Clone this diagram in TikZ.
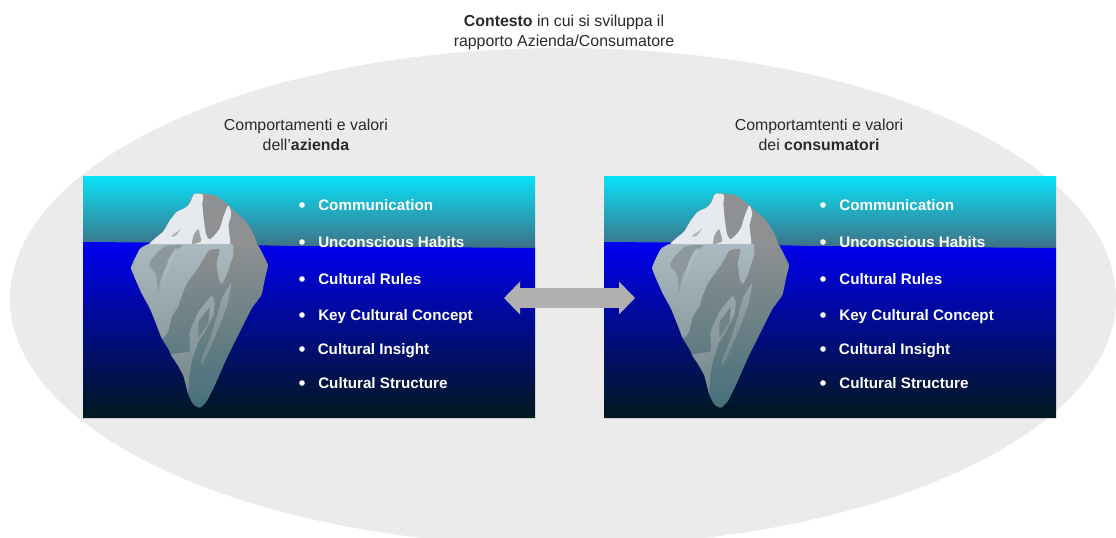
\documentclass[tikz,border=0pt]{standalone}
\usepackage{fontspec}
\setmainfont{Liberation Sans}
\usetikzlibrary{arrows.meta}
\definecolor{bgell}{HTML}{EBEBEB}
\definecolor{txt}{HTML}{2A2A2A}
\definecolor{arrowgray}{HTML}{B0B0B0}
\definecolor{skytop}{HTML}{08E2F8}
\definecolor{skybot}{HTML}{3F7086}
\definecolor{seatop}{HTML}{0000F2}
\definecolor{seamid}{HTML}{00009A}
\definecolor{seabot}{HTML}{01181C}
\definecolor{bergdark}{HTML}{8E9091}
\definecolor{bergmid}{HTML}{7E8C90}
\definecolor{bergbot}{HTML}{46707A}
\definecolor{bergice}{HTML}{E6EAEE}
\definecolor{berglight}{HTML}{AABAC0}
\definecolor{berglow}{HTML}{8E9DA1}
\definecolor{bergpatch}{HTML}{8C989C}
\definecolor{bandtop}{HTML}{9AA6AB}
\definecolor{bandlow}{HTML}{74878B}
\definecolor{lensfill}{HTML}{6F8488}
\tikzset{
  capt/.style={font=\fontsize{11.9pt}{15pt}\selectfont, text=txt, align=center, inner sep=0pt},
  item/.style={font=\fontsize{11.4pt}{14pt}\selectfont\bfseries, text=white, anchor=base west, inner sep=0pt},
  dot/.style={circle, fill=white, inner sep=0pt, minimum size=4.2pt},
  organic/.style={rounded corners=1.2pt}
}
\newcommand{\itemrow}[4]{%
  \node[dot] (#1d) at (302,#2-5) {};
  \node[item] (#1t) at (#3,#2) {#4};
}
\newcommand{\bergshape}{%
  \begin{scope}[shift={(80,170)},x=.25pt,y=-.25pt]
    % above water
    \fill[bergdark, organic] (205,224) -- (225,205) -- (250,185) -- (270,150) -- (290,125) -- (320,113) -- (342,70) -- (370,70) -- (405,75) -- (440,100) -- (465,125) -- (495,150) -- (520,190) -- (533,224) -- cycle;
    \fill[bergice, organic] (205,224) -- (225,205) -- (250,185) -- (270,150) -- (290,125) -- (317,113) -- (330,100) -- (342,70) -- (370,72) -- (367,105) -- (372,155) -- (378,195) -- (388,210) -- (405,195) -- (420,175) -- (430,140) -- (445,103) -- (455,130) -- (445,165) -- (452,224) -- cycle;
    \fill[bergdark!85!white, organic] (355,175) -- (365,215) -- (335,224) -- (340,195) -- cycle;
    \fill[bergdark!70!white, organic] (270,200) -- (305,175) -- (285,200) -- cycle;
    % below water
    \shade[top color=bergdark, middle color=bergmid, bottom color=bergbot, organic] (205,222) -- (533,222) -- (550,255) -- (565,285) -- (555,325) -- (545,375) -- (515,415) -- (480,485) -- (440,565) -- (405,645) -- (380,695) -- (360,715) -- (340,705) -- (325,675) -- (310,615) -- (290,580) -- (272,555) -- (270,545) -- (245,505) -- (230,465) -- (210,415) -- (185,370) -- (165,325) -- (153,295) -- (160,275) -- (180,235) -- cycle;
    \shade[top color=berglight, bottom color=berglow, organic] (205,222) -- (460,222) -- (460,255) -- (440,315) -- (425,345) -- (415,325) -- (410,280) -- (420,235) -- (385,240) -- (360,285) -- (320,340) -- (300,390) -- (298,405) -- (275,440) -- (265,485) -- (250,505) -- (245,505) -- (230,465) -- (210,415) -- (185,370) -- (165,325) -- (153,295) -- (160,275) -- (180,235) -- cycle;
    \fill[bergpatch, organic] (250,230) -- (275,225) -- (310,225) -- (285,245) -- (270,270) -- (245,315) -- (235,365) -- (230,335) -- (230,315) -- (205,285) -- (220,260) -- cycle;
    \fill[berglight, organic] (265,270) -- (285,235) -- (295,232) -- (280,265) -- (262,310) -- (250,340) -- (255,305) -- cycle;
    \shade[top color=bandtop, bottom color=bandlow, organic] (272,553) -- (330,545) -- (328,485) -- (355,425) -- (395,375) -- (405,395) -- (400,435) -- (375,485) -- (355,515) -- (335,575) -- (328,615) -- (325,675) -- (310,615) -- (290,580) -- cycle;
    \fill[lensfill, organic] (390,410) -- (355,455) -- (355,505) -- (385,460) -- cycle;
    \shade[top color=bandtop, bottom color=bandlow, organic] (455,335) -- (442,405) -- (420,465) -- (390,535) -- (365,587) -- (365,565) -- (390,505) -- (412,435) -- (425,385) -- cycle;
  \end{scope}
}
\newcommand{\panel}[2]{%
  \begin{scope}[shift={(#2,0)}]
    \fill[top color=skytop, bottom color=skybot] (83,176) rectangle (535,248);
    \shade[top color=seatop, middle color=seamid, bottom color=seabot] (83,242) -- (150,242.5) -- (290,246) -- (535,248) -- (535,418) -- (83,418) -- cycle;
    \bergshape
    \itemrow{#1a}{210}{318}{Communication}
    \itemrow{#1b}{247}{318}{Unconscious Habits}
    \itemrow{#1c}{284}{318}{Cultural Rules}
    \itemrow{#1e}{320}{318}{Key Cultural Concept}
    \itemrow{#1f}{354}{317.5}{Cultural Insight}
    \itemrow{#1g}{388}{318}{Cultural Structure}
  \end{scope}
}
\begin{document}
\begin{tikzpicture}[x=.75pt,y=-.75pt]
  \useasboundingbox (0,0) rectangle (1116,537);
  \fill[white] (0,0) rectangle (1116,537);
  \begin{scope}
    \clip (0,0) rectangle (1116,537);
    \fill[bgell] (10,299) arc[start angle=180, end angle=360, x radius=553, y radius=251]
                 arc[start angle=0, end angle=180, x radius=553, y radius=247] -- cycle;
  \end{scope}
  \node[capt] (context) at (564,32) {\textbf{Contesto} in cui si sviluppa il\\rapporto Azienda/Consumatore};
  \node[capt] (capL) at (306,135) {Comportamenti e valori\\dell’\textbf{azienda}};
  \node[capt] (capR) at (819,135) {Comportamtenti e valori\\dei \textbf{consumatori}};
  \panel{L}{0}
  \panel{R}{521}
  \coordinate (arrowL) at (504,298);
  \coordinate (arrowR) at (635,298);
  \draw[arrowgray, line width=15pt, {Triangle[length=12pt,width=24pt]}-{Triangle[length=12pt,width=24pt]}] (arrowL) -- (arrowR);
\end{tikzpicture}
\end{document}
